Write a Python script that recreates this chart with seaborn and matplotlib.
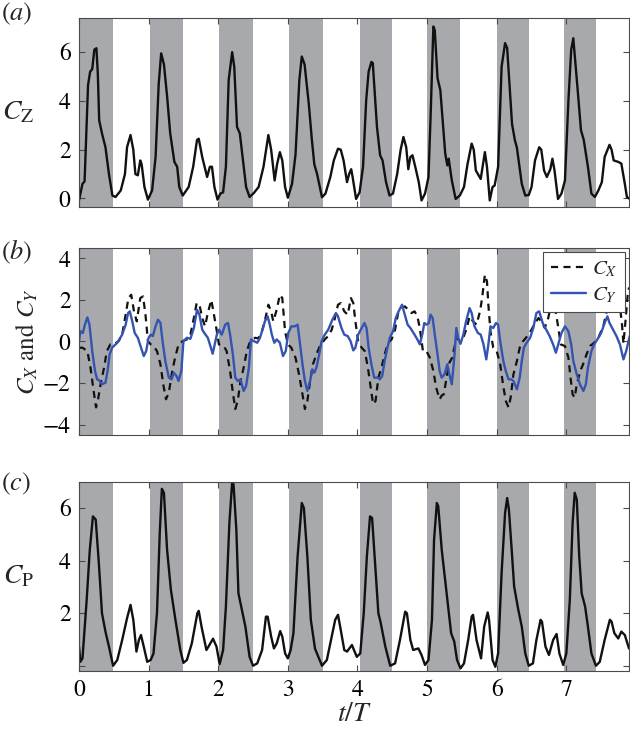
import numpy as np
import pandas as pd
import matplotlib
matplotlib.use("Agg")
import matplotlib.pyplot as plt
import seaborn as sns

# ---------------- data ----------------
band_start = [0.0, 1.02, 2.01, 3.01, 4.03, 5.00, 6.00, 6.96]
band_end = [0.49, 1.49, 2.50, 3.50, 4.50, 5.47, 6.46, 7.43]

cz_t = [0.0, 0.05, 0.08, 0.13, 0.16, 0.19, 0.22, 0.25, 0.27, 0.29, 0.33, 0.38, 0.43, 0.48, 0.525,
        0.6, 0.66, 0.69, 0.74, 0.78, 0.81, 0.845, 0.88, 0.9, 0.94, 0.99, 1.05, 1.1, 1.145, 1.18,
        1.22, 1.265, 1.31, 1.37, 1.41, 1.44, 1.49, 1.575, 1.64, 1.695, 1.72, 1.77, 1.84, 1.88,
        1.91, 1.945, 1.99, 2.03, 2.07, 2.11, 2.15, 2.2, 2.23, 2.27, 2.31, 2.355, 2.4, 2.45,
        2.51, 2.58, 2.65, 2.72, 2.76, 2.81, 2.845, 2.885, 2.92, 2.96, 3.0, 3.06, 3.11, 3.165,
        3.2, 3.24, 3.3, 3.345, 3.38, 3.42, 3.49, 3.54, 3.61, 3.66, 3.72, 3.76, 3.8, 3.85, 3.88,
        3.91, 3.93, 3.98, 4.03, 4.08, 4.125, 4.16, 4.2, 4.22, 4.28, 4.325, 4.36, 4.41, 4.46,
        4.51, 4.57, 4.62, 4.66, 4.70, 4.73, 4.76, 4.79, 4.83, 4.88, 4.92, 4.97, 5.02, 5.05,
        5.09, 5.11, 5.15, 5.19, 5.23, 5.26, 5.29, 5.31, 5.355, 5.41, 5.47, 5.53, 5.58, 5.64,
        5.67, 5.70, 5.73, 5.77, 5.80, 5.83, 5.86, 5.90, 5.94, 5.97, 6.02, 6.07, 6.12, 6.15,
        6.19, 6.22, 6.26, 6.29, 6.36, 6.41, 6.46, 6.50, 6.55, 6.61, 6.64, 6.68, 6.72, 6.77,
        6.80, 6.83, 6.88, 6.93, 6.98, 7.03, 7.07, 7.10, 7.135, 7.17, 7.21, 7.25, 7.31, 7.36,
        7.41, 7.46, 7.51, 7.55, 7.62, 7.65, 7.68, 7.745, 7.79, 7.84, 7.87, 7.9]
cz = [-0.08, 0.6, 0.7, 4.65, 5.2, 5.3, 6.1, 6.16, 5.14, 3.2, 2.67, 2.1, 1.0, 0.12, 0.06,
      0.33, 1.0, 2.1, 2.6, 2.0, 1.0, 0.95, 1.56, 1.4, 0.47, -0.05, 0.33, 1.7, 4.7, 5.95,
      5.5, 4.2, 2.67, 1.5, 1.3, 0.47, 0.12, 0.47, 1.3, 2.4, 2.45, 1.7, 0.88, 1.3,
      1.3, 0.47, -0.05, 0.2, 0.25, 1.3, 4.86, 6.0, 5.4, 2.93, 2.67, 1.56, 0.47, 0.06,
      0.22, 0.47, 1.3, 2.6, 2.0, 0.74, 1.4, 1.9, 1.56, 0.47, 0.03, 0.6, 1.8, 4.86,
      5.82, 5.5, 3.9, 2.4, 1.4, 1.0, 0.05, 0.2, 0.88, 1.56, 2.04, 2.0, 1.56, 0.67, 1.0,
      1.2, 0.88, -0.02, 0.25, 1.3, 4.03, 5.2, 5.6, 5.55, 2.93, 1.77, 1.56, 0.67, 0.12,
      0.2, 1.0, 2.0, 2.52, 2.1, 1.2, 1.7, 1.77, 1.3, 0.67, -0.08, 0.2, 0.88, 3.35,
      7.05, 6.9, 4.93, 4.44, 2.93, 1.85, 1.36, 1.63, 0.74, -0.02, 0.12, 0.47, 1.4, 2.25,
      2.0, 1.15, 1.0, 0.8, 1.36, 1.9, 1.3, -0.08, 0.47, 0.53, 1.3, 5.4, 6.37, 6.17,
      4.35, 3.05, 2.4, 2.08, 0.6, 0.12, 0.14, 0.47, 1.56, 2.1, 2.0, 1.15, 0.88, 1.2,
      1.63, 1.15, -0.02, 0.2, 0.74, 4.03, 6.1, 6.57, 5.4, 4.2, 2.8, 2.4, 1.3, 0.2,
      0.06, 0.33, 0.67, 1.7, 2.2, 2.0, 1.56, 1.5, 1.43, 0.6, 0.06, 0.0]

cx_t = [0.0, 0.05, 0.12, 0.165, 0.21, 0.245, 0.27, 0.31, 0.36, 0.40, 0.45, 0.50, 0.57, 0.62,
        0.67, 0.71, 0.75, 0.79, 0.83, 0.88, 0.92, 0.955, 0.99, 1.03, 1.07, 1.12, 1.17, 1.21,
        1.25, 1.29, 1.34, 1.38, 1.43, 1.49, 1.55, 1.60, 1.65, 1.69, 1.73, 1.77, 1.81, 1.85,
        1.90, 1.93, 1.98, 2.01, 2.08, 2.12, 2.17, 2.21, 2.245, 2.28, 2.32, 2.365, 2.41, 2.46,
        2.53, 2.575, 2.62, 2.67, 2.72, 2.76, 2.79, 2.84, 2.885, 2.92, 2.96, 3.0, 3.05, 3.11,
        3.16, 3.21, 3.245, 3.28, 3.32, 3.36, 3.41, 3.46, 3.53, 3.58, 3.63, 3.67, 3.72, 3.76,
        3.81, 3.86, 3.905, 3.94, 3.97, 4.01, 4.06, 4.105, 4.15, 4.19, 4.225, 4.26, 4.30, 4.345,
        4.39, 4.44, 4.49, 4.54, 4.584, 4.63, 4.68, 4.73, 4.775, 4.82, 4.86, 4.895, 4.94, 4.99,
        5.04, 5.09, 5.13, 5.18, 5.21, 5.24, 5.28, 5.32, 5.36, 5.39, 5.43, 5.47, 5.52, 5.57,
        5.61, 5.66, 5.71, 5.76, 5.79, 5.83, 5.86, 5.88, 5.91, 5.95, 6.0, 6.05, 6.09, 6.13,
        6.17, 6.20, 6.24, 6.29, 6.33, 6.38, 6.44, 6.50, 6.55, 6.60, 6.64, 6.69, 6.74, 6.79,
        6.83, 6.87, 6.92, 6.98, 7.03, 7.06, 7.09, 7.12, 7.15, 7.20, 7.24, 7.29, 7.34, 7.40,
        7.46, 7.53, 7.58, 7.62, 7.66, 7.70, 7.74, 7.77, 7.80, 7.82, 7.85, 7.88, 7.90]
cx = [-0.3, -0.3, -0.46, -1.26, -2.38, -3.17, -2.86, -2.06, -1.26, -0.46, -0.14, -0.14, 0.02, 0.33,
      1.29, 2.09, 2.25, 1.45, 0.97, 2.09, 2.17, 1.29, 0.02, -0.14, -0.22, -0.46, -1.1, -2.06,
      -2.78, -2.46, -1.42, -0.78, -0.14, 0.02, 0.1, 0.33, 1.13, 1.85, 1.77, 1.13, 0.73, 1.37,
      2.0, 1.45, 0.49, -0.14, -0.22, -0.46, -1.42, -2.46, -3.25, -2.86, -1.9, -1.26, -0.46, 0.02,
      0.18, 0.15, 0.41, 1.0, 1.77, 1.45, 0.97, 1.53, 2.25, 2.09, 0.49, -0.14, -0.3, -0.78,
      -1.58, -2.54, -3.25, -2.86, -1.9, -1.1, -0.62, -0.22, 0.1, 0.26, 0.57, 1.05, 1.77, 1.85,
      1.45, 1.29, 2.09, 1.85, 0.97, 0.02, -0.3, -0.46, -1.26, -2.22, -3.01, -2.86, -1.74, -1.26,
      -0.62, -0.06, 0.1, 0.57, 1.37, 1.61, 1.69, 1.53, 1.37, 1.45, 1.21, 0.65, -0.46, -0.46,
      -0.78, -1.42, -2.22, -2.78, -2.6, -2.54, -1.74, -1.02, -0.78, -0.3, 0.18, 0.02, 0.18, 0.65,
      1.21, 0.97, 0.81, 1.45, 2.09, 3.21, 2.89, 1.77, 0.49, -0.3, -0.46, -1.1, -2.06, -2.86,
      -3.17, -2.7, -1.58, -0.94, -0.3, 0.02, 0.26, 0.57, 0.89, 1.13, 0.97, 0.65, 1.13, 1.93,
      1.77, 0.97, -0.14, -0.22, -0.78, -1.74, -2.54, -2.7, -2.06, -1.42, -1.1, -0.62, -0.22, -0.06,
      0.18, 0.73, 1.45, 2.1, 2.0, 1.8, 1.9, 1.7, 0.8, -0.1, 1.0, 2.2, 2.6]

cy_t = [0.0, 0.02, 0.055, 0.085, 0.12, 0.15, 0.19, 0.23, 0.26, 0.29, 0.33, 0.38, 0.41, 0.44,
        0.475, 0.55, 0.62, 0.67, 0.705, 0.73, 0.765, 0.80, 0.845, 0.90, 0.93, 0.965, 1.0, 1.03,
        1.06, 1.10, 1.135, 1.17, 1.20, 1.24, 1.29, 1.33, 1.36, 1.40, 1.43, 1.47, 1.50, 1.55,
        1.60, 1.65, 1.695, 1.73, 1.77, 1.80, 1.85, 1.88, 1.92, 1.95, 1.98, 2.01, 2.05, 2.10,
        2.14, 2.17, 2.21, 2.245, 2.28, 2.32, 2.365, 2.40, 2.44, 2.47, 2.51, 2.56, 2.60, 2.65,
        2.67, 2.71, 2.74, 2.77, 2.805, 2.84, 2.885, 2.93, 2.97, 3.006, 3.05, 3.10, 3.14, 3.17,
        3.21, 3.245, 3.28, 3.32, 3.35, 3.38, 3.41, 3.45, 3.485, 3.53, 3.58, 3.64, 3.69, 3.72,
        3.77, 3.81, 3.86, 3.90, 3.94, 3.97, 4.01, 4.06, 4.10, 4.13, 4.16, 4.20, 4.24, 4.29,
        4.32, 4.355, 4.39, 4.43, 4.465, 4.51, 4.55, 4.59, 4.64, 4.68, 4.72, 4.76, 4.82, 4.86,
        4.895, 4.93, 4.96, 4.99, 5.025, 5.05, 5.08, 5.11, 5.15, 5.18, 5.21, 5.25, 5.29, 5.32,
        5.355, 5.39, 5.42, 5.45, 5.48, 5.52, 5.56, 5.61, 5.64, 5.68, 5.73, 5.77, 5.81, 5.85,
        5.88, 5.91, 5.95, 5.99, 6.02, 6.05, 6.095, 6.13, 6.17, 6.21, 6.24, 6.29, 6.33, 6.36,
        6.39, 6.43, 6.48, 6.525, 6.57, 6.61, 6.66, 6.71, 6.76, 6.81, 6.85, 6.89, 6.93, 6.98,
        7.03, 7.07, 7.10, 7.15, 7.195, 7.245, 7.28, 7.31, 7.36, 7.40, 7.46, 7.50, 7.55, 7.59,
        7.62, 7.67, 7.72, 7.77, 7.82, 7.86, 7.91]
cy = [0.0, 0.5, 0.41, 0.81, 1.16, 0.81, -0.46, -1.42, -1.82, -1.87, -2.06, -1.98, -1.42, -0.62,
      -0.3, -0.06, 0.33, 0.81, 1.37, 1.45, 0.97, 0.41, 0.18, -0.38, -0.7, -0.46, 0.18, 0.33,
      0.26, 0.73, 1.05, 0.89, 0.02, -0.94, -1.74, -1.82, -1.5, -1.66, -1.9, -1.42, 0.02, 0.18,
      0.13, 0.65, 1.53, 1.29, 0.57, 0.41, 0.18, -0.14, -0.59, -0.14, 0.33, 0.57, 0.33, 0.81,
      0.89, 0.33, -0.62, -1.74, -1.9, -1.82, -2.38, -2.14, -1.26, 0.1, 0.02, -0.06, 0.18, 0.73,
      0.97, 1.21, 0.81, 0.33, -0.06, 0.1, -0.06, -0.7, -0.46, 0.41, 0.73, 0.73, 0.81, 0.02,
      -1.1, -1.9, -2.38, -1.9, -1.34, -1.5, -1.26, -0.62, 0.02, 0.33, 0.57, 1.05, 1.37, 1.21,
      0.65, 0.33, 0.26, 0.02, -0.43, -0.3, 0.33, 0.65, 0.89, 0.65, -0.3, -1.1, -1.74, -1.74,
      -1.82, -1.66, -0.94, -0.3, 0.18, 0.49, 1.13, 1.45, 1.77, 1.29, 0.81, 0.65, 0.33, 0.1,
      -0.14, 0.33, 0.89, 0.81, 0.89, 1.29, 1.13, 0.33, -0.62, -1.42, -1.74, -1.58, -1.1, -1.58,
      -2.06, -0.78, 0.65, 0.1, -0.11, 0.33, 0.97, 1.61, 1.37, 0.73, 0.41, 0.33, -0.14, -0.86,
      -0.14, 0.73, 0.65, 0.89, 0.81, 0.02, -0.94, -1.42, -1.82, -1.82, -1.9, -2.3, -1.74, -0.94,
      -0.3, -0.06, 0.18, 0.65, 1.37, 1.45, 0.89, 0.57, 0.26, -0.14, -0.54, -0.06, 0.41, 0.73,
      0.49, -0.14, -0.94, -1.58, -2.06, -2.38, -2.06, -1.26, -0.46, -0.14, 0.18, 0.41, 0.89, 1.21,
      0.89, 0.57, 0.26, -0.14, -0.86, -0.46, 0.26]

cp_t = [0.0, 0.02, 0.05, 0.11, 0.155, 0.20, 0.24, 0.285, 0.33, 0.38, 0.43, 0.49, 0.55, 0.62,
        0.69, 0.74, 0.78, 0.825, 0.86, 0.89, 0.93, 0.98, 1.03, 1.07, 1.12, 1.16, 1.19, 1.22,
        1.265, 1.32, 1.385, 1.455, 1.50, 1.55, 1.62, 1.70, 1.72, 1.76, 1.83, 1.86, 1.925, 1.975,
        2.02, 2.07, 2.11, 2.16, 2.20, 2.22, 2.26, 2.29, 2.32, 2.39, 2.45, 2.50, 2.56, 2.63,
        2.685, 2.71, 2.76, 2.80, 2.84, 2.89, 2.92, 2.96, 3.0, 3.04, 3.08, 3.14, 3.20, 3.23,
        3.28, 3.33, 3.39, 3.49, 3.56, 3.63, 3.68, 3.72, 3.76, 3.81, 3.85, 3.92, 3.95, 3.99,
        4.04, 4.09, 4.135, 4.18, 4.21, 4.25, 4.30, 4.33, 4.40, 4.47, 4.54, 4.61, 4.685, 4.71,
        4.76, 4.80, 4.875, 4.92, 4.97, 5.02, 5.07, 5.10, 5.14, 5.16, 5.21, 5.28, 5.345, 5.39,
        5.43, 5.48, 5.53, 5.59, 5.64, 5.66, 5.71, 5.775, 5.82, 5.87, 5.89, 5.94, 5.98, 6.02,
        6.07, 6.12, 6.15, 6.175, 6.215, 6.25, 6.31, 6.36, 6.41, 6.46, 6.52, 6.57, 6.63, 6.65,
        6.70, 6.75, 6.81, 6.86, 6.90, 6.955, 7.00, 7.05, 7.09, 7.12, 7.15, 7.185, 7.22, 7.27,
        7.31, 7.36, 7.425, 7.48, 7.55, 7.625, 7.65, 7.69, 7.745, 7.79, 7.84, 7.90]
cp = [0.73, 0.15, 0.28, 2.5, 4.42, 5.69, 5.57, 3.91, 2.0, 1.3, 0.73, 0.0, 0.22, 0.98,
      1.81, 2.32, 1.75, 0.54, 0.98, 1.17, 0.73, 0.15, 0.22, 0.47, 2.0, 5.06, 6.74, 6.59,
      4.42, 2.89, 1.75, 0.6, 0.11, 0.22, 0.85, 2.0, 2.09, 1.49, 0.6, 0.73, 1.03, 0.73,
      0.06, 0.6, 2.25, 5.44, 6.99, 6.9, 5.18, 2.76, 2.38, 1.49, 0.34, 0.0, 0.09, 0.6,
      1.87, 1.87, 1.11, 0.66, 0.85, 1.32, 1.11, 0.47, 0.28, 0.6, 1.24, 4.17, 6.2, 6.01,
      4.17, 1.75, 0.65, 0.0, 0.22, 1.11, 1.75, 1.94, 1.36, 0.6, 0.54, 0.79, 0.6, 0.34,
      0.47, 2.0, 4.17, 5.69, 5.63, 4.04, 2.0, 1.68, 0.73, 0.0, 0.09, 0.98, 2.06, 2.0,
      0.98, 0.6, 0.66, 0.41, 0.03, 0.22, 1.75, 4.8, 6.2, 6.08, 4.42, 2.76, 1.24, 0.92,
      0.22, -0.1, 0.09, 0.98, 1.87, 1.94, 0.98, 0.28, 1.49, 2.03, 1.75, 0.22, -0.04, 0.47,
      3.53, 5.82, 6.39, 5.95, 4.42, 3.02, 2.13, 1.49, 0.47, 0.0, 0.09, 0.98, 1.75, 1.68,
      0.73, 0.41, 0.98, 1.21, 0.47, 0.03, 0.47, 2.51, 5.44, 6.59, 6.33, 4.17, 2.76, 2.25,
      1.49, 0.47, 0.0, 0.15, 0.98, 1.75, 1.68, 1.24, 1.04, 1.3, 1.17, 0.66]

xtick_vals = [0, 1, 2, 3, 4, 5, 6, 7]
xtick_labels = ["0", "1", "2", "3", "4", "5", "6", "7"]
a_yticks = [0, 2, 4, 6]
b_yticks = [-4, -2, 0, 2, 4]
c_yticks = [0, 2, 4, 6]
c_ylabels = ["", "2", "4", "6"]

# ---------------- style ----------------
sns.set_style("ticks")
plt.rcParams["font.family"] = ["STIXGeneral", "Liberation Serif", "DejaVu Serif"]
plt.rcParams["mathtext.fontset"] = "stix"
plt.rcParams["axes.unicode_minus"] = True

BAND = "#a8a9ad"
SPINE = "#4a4a4a"
BLUE = "#3553b0"

fig = plt.figure(figsize=(6.3, 7.29), dpi=100)
L, R = 79 / 630, 629 / 630
def ax_at(top_px, bot_px):
    return fig.add_axes([L, 1 - bot_px / 729, R - L, (bot_px - top_px) / 729])

ax_a = ax_at(18, 207)
ax_b = ax_at(248, 435)
ax_c = ax_at(482, 671)

for ax in (ax_a, ax_b, ax_c):
    for s, e in zip(band_start, band_end):
        ax.axvspan(s, e, color=BAND, lw=0, zorder=0)
    ax.set_xlim(0, 7.9)
    ax.set_xticks(xtick_vals)
    ax.tick_params(direction="in", length=4, width=0.8, colors=SPINE, labelcolor="black",
                   labelsize=17, top=True, right=True, pad=6)
    for sp in ax.spines.values():
        sp.set_visible(True)
        sp.set_color(SPINE)
        sp.set_linewidth(0.8)
    ax.set_facecolor("white")

# panel a
sns.lineplot(x=cz_t, y=cz, ax=ax_a, color="#111111", lw=1.7, estimator=None, sort=False)
ax_a.set_ylim(-0.35, 7.4)
ax_a.set_yticks(a_yticks)
ax_a.set_xticklabels([])
ax_a.set_ylabel(r"$C_\mathrm{Z}$", fontsize=20, rotation=0, ha="center", va="center")
ax_a.yaxis.set_label_coords(-0.111, 0.5)

# panel b
dfb = pd.DataFrame({"t": cx_t, "v": cx})
sns.lineplot(data=dfb, x="t", y="v", ax=ax_b, color="#111111", lw=1.6, linestyle="--",
             estimator=None, sort=False, label=r"$C_X$")
ax_b.lines[-1].set_dashes([3.2, 2.4])
sns.lineplot(x=cy_t, y=cy, ax=ax_b, color=BLUE, lw=1.7, estimator=None, sort=False,
             label=r"$C_Y$")
ax_b.set_ylim(-4.5, 4.5)
ax_b.set_yticks(b_yticks)
ax_b.set_yticklabels(["\u22124", "\u22122", "0", "2", "4"])
ax_b.set_xticklabels([])
ax_b.set_ylabel(r"$C_X$ and $C_Y$", fontsize=18, va="center")
ax_b.yaxis.set_label_coords(-0.093, 0.5)
leg = ax_b.legend(loc="upper right", bbox_to_anchor=(0.993, 0.979), fontsize=15,
                  frameon=True, fancybox=False, framealpha=1, edgecolor=SPINE,
                  handlelength=1.7, handletextpad=0.3, borderpad=0.35, labelspacing=0.3,
                  borderaxespad=0)
leg.get_frame().set_linewidth(0.8)

# panel c
sns.lineplot(x=cp_t, y=cp, ax=ax_c, color="#111111", lw=1.7, estimator=None, sort=False)
ax_c.set_ylim(-0.2, 7.0)
ax_c.set_yticks(c_yticks)
ax_c.set_yticklabels(c_ylabels)
ax_c.set_xticklabels(xtick_labels)
ax_c.set_ylabel(r"$C_\mathrm{P}$", fontsize=20, rotation=0, ha="center", va="center")
ax_c.yaxis.set_label_coords(-0.109, 0.5)
ax_c.set_xlabel(r"$t/T$", fontsize=20, labelpad=1)

for ax in (ax_a, ax_b):
    ax.set_xlabel("")

fig.text(0.002, 0.999, r"($a$)", fontsize=19, ha="left", va="top")
fig.text(0.002, 0.674, r"($b$)", fontsize=19, ha="left", va="top")
fig.text(0.002, 0.354, r"($c$)", fontsize=19, ha="left", va="top")

fig.savefig("out.png", dpi=100, facecolor="white")
